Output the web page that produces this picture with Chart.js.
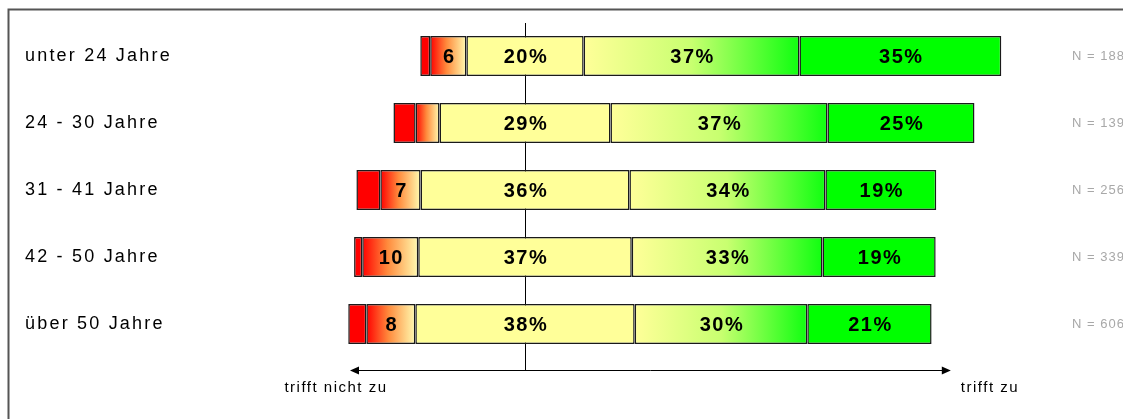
<!DOCTYPE html>
<html>
<head>
<meta charset="utf-8">
<script src="https://cdn.jsdelivr.net/npm/chart.js@4.4.1/dist/chart.umd.min.js"></script>
<style>
  html, body { margin: 0; padding: 0; background: #fff; }
  .chart-wrap { width: 1123px; height: 419px; position: relative; }
</style>
</head>
<body>
<div class="chart-wrap"><canvas id="ageChart"></canvas></div>
<script>
const ageGroups = ['unter 24 Jahre', '24 - 30 Jahre', '31 - 41 Jahre', '42 - 50 Jahre', 'über 50 Jahre'];
const sampleSizes = ['N = 188', 'N = 139', 'N = 256', 'N = 339', 'N = 606'];

// shares in %
const trifftGarNicht  = [1.7, 3.8, 4.1, 1.4, 3.1];
const trifftEherNicht = [6.2, 4.1, 6.9, 9.6, 8.4];
const teilsTeils      = [20.1, 29.3, 35.8, 36.6, 37.6];
const trifftEherZu    = [37.0, 37.2, 33.6, 32.7, 29.6];
const trifftVollZu    = [34.6, 25.2, 19.0, 19.4, 21.3];

const arrowFrom = -30;
const arrowTo = 73;

const series = [trifftGarNicht, trifftEherNicht, teilsTeils, trifftEherZu, trifftVollZu];

// bars are centred on the middle of the neutral category
const starts = ageGroups.map((_, i) => -(trifftGarNicht[i] + trifftEherNicht[i] + teilsTeils[i] / 2));

const floating = (k) => ageGroups.map((_, i) => {
    let s = starts[i];
    for (let j = 0; j < k; j++) s += series[j][i];
    return [s, s + series[k][i]];
});

const gradientFill = (stops, fallback) => (ctx) => {
    const chart = ctx.chart;
    if (!chart.chartArea || !Array.isArray(ctx.raw)) return fallback;
    const xs = chart.scales.x;
    const x0 = xs.getPixelForValue(ctx.raw[0]);
    const x1 = xs.getPixelForValue(ctx.raw[1]);
    const g = chart.ctx.createLinearGradient(x0, 0, x1, 0);
    stops.forEach(([p, c]) => g.addColorStop(p, c));
    return g;
};

const FONT = "'Liberation Sans', Arial, sans-serif";

const decorations = {
    id: 'decorations',
    afterLayout(chart) {
        // narrower letter spacing for the N labels
        const s = chart.scales.n;
        if (s && !s._spaced) {
            const orig = s.drawLabels;
            s.drawLabels = function (area) {
                this.ctx.save();
                this.ctx.letterSpacing = '1px';
                orig.call(this, area);
                this.ctx.restore();
            };
            s._spaced = true;
        }
    },
    beforeDraw(chart) {
        chart.ctx.letterSpacing = '2.2px';
    },
    beforeDatasetsDraw(chart) {
        const ctx = chart.ctx;
        const x0 = Math.round(chart.scales.x.getPixelForValue(0)) + 0.5;
        ctx.save();
        ctx.strokeStyle = '#000';
        ctx.lineWidth = 1;
        ctx.beginPath();
        ctx.moveTo(x0, 23);
        ctx.lineTo(x0, 370);
        ctx.stroke();
        ctx.restore();
    },
    afterDatasetsDraw(chart) {
        const ctx = chart.ctx;
        ctx.save();
        ctx.font = 'bold 20px ' + FONT;
        ctx.letterSpacing = '1.5px';
        ctx.fillStyle = '#000';
        ctx.textAlign = 'center';
        ctx.textBaseline = 'middle';
        for (let k = 1; k < series.length; k++) {
            const meta = chart.getDatasetMeta(k);
            meta.data.forEach((bar, i) => {
                const v = series[k][i];
                if (k === 1 && v < 5) return;
                const txt = Math.round(v) + (k === 1 ? '' : '%');
                const cx = (bar.x + bar.base) / 2;
                ctx.fillText(txt, cx + 1, bar.y + 1);
            });
        }
        ctx.restore();
    },
    afterDraw(chart) {
        const ctx = chart.ctx;
        const xs = chart.scales.x;
        ctx.save();
        // frame
        ctx.strokeStyle = '#555';
        ctx.lineWidth = 2;
        ctx.beginPath();
        ctx.moveTo(8.5, 419);
        ctx.lineTo(8.5, 9.5);
        ctx.lineTo(1123, 9.5);
        ctx.stroke();

        // arrow
        const ay = 370.5;
        const a0 = xs.getPixelForValue(arrowFrom);
        const a1 = xs.getPixelForValue(arrowTo);
        ctx.strokeStyle = '#000';
        ctx.fillStyle = '#000';
        ctx.lineWidth = 1;
        ctx.beginPath();
        ctx.moveTo(a0 + 6, ay);
        ctx.lineTo(a1 - 6, ay);
        ctx.stroke();
        ctx.beginPath();
        ctx.moveTo(a0, ay);
        ctx.lineTo(a0 + 9, ay - 4);
        ctx.lineTo(a0 + 9, ay + 4);
        ctx.closePath();
        ctx.fill();
        ctx.beginPath();
        ctx.moveTo(a1, ay);
        ctx.lineTo(a1 - 9, ay - 4);
        ctx.lineTo(a1 - 9, ay + 4);
        ctx.closePath();
        ctx.fill();

        ctx.font = '15px ' + FONT;
        ctx.letterSpacing = '1.5px';
        ctx.textBaseline = 'middle';
        ctx.textAlign = 'center';
        ctx.fillText('trifft nicht zu', a0 - 14, 388);
        ctx.textAlign = 'left';
        ctx.fillText('trifft zu', a1 + 10, 388);
        ctx.restore();
    }
};

const barDefaults = {
    grouped: false,
    borderColor: '#1a1a1a',
    borderWidth: 1.5,
    borderSkipped: false,
    categoryPercentage: 0.6,
    barPercentage: 1
};

const noPadding = (width) => (scale) => {
    scale.width = width;
    scale.paddingTop = 0;
    scale.paddingBottom = 0;
};

new Chart(document.getElementById('ageChart'), {
    type: 'bar',
    data: {
        labels: ageGroups,
        datasets: [
            { ...barDefaults, label: 'trifft gar nicht zu', data: floating(0), backgroundColor: '#ff0000' },
            { ...barDefaults, label: 'trifft eher nicht zu', data: floating(1),
              backgroundColor: gradientFill([[0, '#ff0000'], [0.45, '#ff8a3c'], [1, '#fffbb0']], '#ff8040') },
            { ...barDefaults, label: 'teils / teils', data: floating(2), backgroundColor: '#ffff99' },
            { ...barDefaults, label: 'trifft eher zu', data: floating(3),
              backgroundColor: gradientFill([[0, '#ffff99'], [0.5, '#c8ff70'], [1, '#10ff10']], '#a0ff60') },
            { ...barDefaults, label: 'trifft voll zu', data: floating(4), backgroundColor: '#00ff00' }
        ]
    },
    options: {
        indexAxis: 'y',
        responsive: true,
        maintainAspectRatio: false,
        animation: false,
        layout: { padding: { left: 25, right: 0, top: 22.5, bottom: 61.5 } },
        plugins: {
            legend: { display: false },
            tooltip: { enabled: false }
        },
        scales: {
            x: { display: false, min: -60, max: 90 },
            y: {
                grid: { display: false, drawTicks: false },
                border: { display: false },
                ticks: {
                    crossAlign: 'far',
                    color: '#000',
                    font: { family: FONT, size: 18 }
                },
                afterFit: noPadding(150)
            },
            n: {
                type: 'category',
                position: 'right',
                labels: sampleSizes,
                offset: true,
                grid: { display: false, drawTicks: false },
                border: { display: false },
                ticks: {
                    crossAlign: 'near',
                    padding: 22,
                    color: '#a8a8a8',
                    font: { family: FONT, size: 13 }
                },
                afterFit: noPadding(73)
            }
        }
    },
    plugins: [decorations]
});
</script>
</body>
</html>
